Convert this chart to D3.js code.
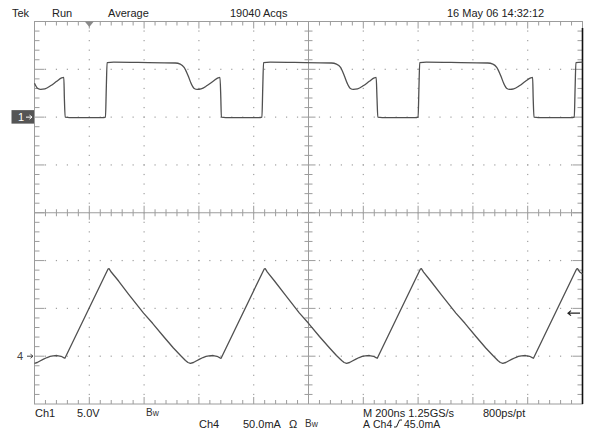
<!DOCTYPE html>
<html lang="en">
<head>
  <meta charset="UTF-8">
  <title>Tek scope capture</title>
  <style>
    * {box-sizing: border-box;}
    html, body {
      margin: 0;
      padding: 0;
      background: #fff;
    }
    text {font-family: "Liberation Sans", Arial, sans-serif; fill: #222;}
  </style>
</head>
<body>
  <svg id="scope"></svg>

  <script src="https://d3js.org/d3.v7.min.js"></script>
  <script>
    // Ch1 gate voltage: [time ns, volts], 5 V/div
    const ch1 = [
      [0, 3.55], [12, 3.0], [23, 2.9], [38, 2.95], [60, 3.3], [81, 3.75], [99, 4.1], [107, 4.15],
      [109, 2.0], [112, 0], [128, -0.05], [248, -0.05],
      [259, 0], [262, 3.0], [265, 5.7], [289, 5.75], [378, 5.72], [514, 5.66],
      [532, 5.55], [546, 5.2], [561, 4.3], [572, 3.5], [583, 3.0], [594, 2.9], [608, 2.95],
      [630, 3.3], [652, 3.75], [670, 4.1], [677, 4.15],
      [680, 2.0], [682, 0], [698, -0.05], [818, -0.05],
      [830, 0], [833, 3.0], [836, 5.7], [860, 5.75], [949, 5.72], [1084, 5.66],
      [1102, 5.55], [1117, 5.2], [1131, 4.3], [1142, 3.5], [1153, 3.0], [1164, 2.9], [1179, 2.95],
      [1201, 3.3], [1222, 3.75], [1240, 4.1], [1247, 4.15],
      [1250, 2.0], [1253, 0], [1269, -0.05], [1389, -0.05],
      [1400, 0], [1403, 3.0], [1406, 5.7], [1430, 5.75], [1519, 5.72], [1654, 5.66],
      [1673, 5.55], [1687, 5.2], [1702, 4.3], [1713, 3.5], [1724, 3.0], [1735, 2.9], [1749, 2.95],
      [1771, 3.3], [1792, 3.75], [1811, 4.1], [1818, 4.15],
      [1820, 2.0], [1823, 0], [1839, -0.05], [1959, -0.05],
      [1970, 0], [1973, 3.0], [1976, 5.7], [2000, 5.75]
    ]

    // Ch4 inductor current: [time ns, mA], 50 mA/div
    const ch4 = [
      [0, -7.4], [10, -6.6], [20, -5.0], [33, -3.0], [46, -1.4], [57, -0.3], [68, 0.4], [82, 0.7], [97, -0.1], [108, -1.7], [111, -2.2],
      [268, 91.0], [272, 91.5], [280, 88.0], [307, 78.6], [343, 65.0], [398, 45.1], [431, 34.4], [471, 20.6], [507, 8.6],
      [533, 0.7], [551, -4.5], [560, -6.6], [569, -7.4],
      [580, -6.6], [590, -5.0], [603, -3.0], [615, -1.4], [626, -0.3], [637, 0.4], [652, 0.7], [666, -0.1], [677, -1.7], [681, -2.2],
      [838, 91.0], [842, 91.5], [850, 88.0], [876, 78.6], [913, 65.0], [967, 45.1], [1000, 34.4], [1040, 20.6], [1077, 8.6],
      [1102, 0.7], [1121, -4.5], [1130, -6.6], [1139, -7.4],
      [1150, -6.6], [1160, -5.0], [1173, -3.0], [1185, -1.4], [1196, -0.3], [1207, 0.4], [1222, 0.7], [1237, -0.1], [1248, -1.7], [1251, -2.2],
      [1408, 91.0], [1412, 91.5], [1420, 88.0], [1446, 78.6], [1483, 65.0], [1538, 45.1], [1571, 34.4], [1611, 20.6], [1647, 8.6],
      [1673, 0.7], [1691, -4.5], [1700, -6.6], [1709, -7.4],
      [1720, -6.6], [1730, -5.0], [1743, -3.0], [1756, -1.4], [1766, -0.3], [1777, 0.4], [1792, 0.7], [1807, -0.1], [1818, -1.7], [1821, -2.2],
      [1978, 91.0], [1982, 91.5], [1990, 88.0], [2000, 86.0]
    ]

    const headerLabels = ['Tek', 'Run', 'Average', '19040 Acqs', '16 May 06 14:32:12']
    const footerRow1 = ['Ch1', '5.0V', 'M 200ns 1.25GS/s', '800ps/pt']
    const footerRow2 = ['Ch4', '50.0mA', 'Ω']
    const triggerRow = ['A', 'Ch4', '45.0mA']

    const voltsPerDiv = 5
    const mAPerDiv = 50
    const ch1Offset = 2    // divisions
    const ch4Offset = -3
    const triggerTime = 200
    const triggerLevel = 45

    const W = 589, H = 431
    const svg = d3.select('#scope').attr('width', W).attr('height', H)

    const xDiv = d3.scaleLinear([0, 10], [34.5, 582.5])
    const yDiv = d3.scaleLinear([-4, 4], [404, 21.5])
    const x = d3.scaleLinear([0, 2000], xDiv.range())
    const y1 = v => yDiv(v / voltsPerDiv + ch1Offset)
    const y4 = a => yDiv(a / mAPerDiv + ch4Offset)

    const grid = svg.append('g').attr('stroke', '#9c9c9c').attr('stroke-width', 1)
    const [L, R] = xDiv.range()
    const [B, T] = yDiv.range()
    const cx = xDiv(5), cy = yDiv(0)

    grid.append('rect').attr('x', L).attr('y', T).attr('width', R - L).attr('height', B - T).attr('fill', 'none')

    // edge + centre ticks along x
    d3.range(1, 50).forEach(k => {
      const px = xDiv(k / 5)
      const major = k % 5 === 0
      grid.append('line').attr('x1', px).attr('x2', px).attr('y1', T).attr('y2', T + (major ? 7 : 4))
      grid.append('line').attr('x1', px).attr('x2', px).attr('y1', B).attr('y2', B - (major ? 7 : 4))
      const c = major ? 7 : 3.5
      grid.append('line').attr('x1', px).attr('x2', px).attr('y1', cy - c).attr('y2', cy + c)
    })
    d3.range(1, 40).forEach(k => {
      const py = yDiv(k / 5 - 4)
      const major = k % 5 === 0
      grid.append('line').attr('y1', py).attr('y2', py).attr('x1', L).attr('x2', L + (major ? 10 : 5))
      grid.append('line').attr('y1', py).attr('y2', py).attr('x1', R).attr('x2', R - (major ? 10 : 5))
      const c = major ? 7 : 4
      grid.append('line').attr('y1', py).attr('y2', py).attr('x1', cx - c).attr('x2', cx + c)
    })
    grid.append('line').attr('x1', L).attr('x2', R).attr('y1', cy).attr('y2', cy)
    grid.append('line').attr('x1', cx).attr('x2', cx).attr('y1', T).attr('y2', B)

    // dotted graticule
    const dots = svg.append('g').attr('fill', '#a0a0a0')
    d3.range(1, 10).filter(k => k !== 5).forEach(k => {
      d3.range(1, 40).forEach(j => {
        dots.append('rect').attr('x', xDiv(k) - 0.6).attr('y', yDiv(j / 5 - 4) - 0.6).attr('width', 1.2).attr('height', 1.2)
      })
    })
    d3.range(1, 8).filter(k => k !== 4).forEach(k => {
      d3.range(1, 50).forEach(j => {
        dots.append('rect').attr('x', xDiv(j / 5) - 0.6).attr('y', yDiv(k - 4) - 0.6).attr('width', 1.2).attr('height', 1.2)
      })
    })

    // dark right border
    svg.append('line').attr('x1', R).attr('x2', R).attr('y1', 28).attr('y2', B)
      .attr('stroke', '#111').attr('stroke-width', 1.6)

    // traces
    const line1 = d3.line().x(d => x(d[0])).y(d => y1(d[1])).curve(d3.curveMonotoneX)
    const line4 = d3.line().x(d => x(d[0])).y(d => y4(d[1]))
    svg.append('path').datum(ch1).attr('d', line1)
      .attr('fill', 'none').attr('stroke', '#505050').attr('stroke-width', 1.3)
    svg.append('path').datum(ch4).attr('d', line4)
      .attr('fill', 'none').attr('stroke', '#505050').attr('stroke-width', 1.3).attr('stroke-linejoin', 'round')

    // trigger position marker
    const tx = x(triggerTime)
    svg.append('path').attr('d', `M${tx - 4.5},${T} L${tx + 4.5},${T} L${tx},${T + 5.5} Z`).attr('fill', '#8a8a8a')

    // ch1 ground marker
    const g1 = y1(0)
    svg.append('rect').attr('x', 11.5).attr('y', g1 - 7).attr('width', 22.5).attr('height', 13.5).attr('fill', '#555')
    svg.append('text').attr('x', 18).attr('y', g1 + 4).style('fill', '#fff').style('font-size', '11px').text('1')
    svg.append('path').attr('d', `M26,${g1} H32 M29.5,${g1 - 2} L32,${g1} L29.5,${g1 + 2}`)
      .attr('stroke', '#fff').attr('fill', 'none').attr('stroke-width', 1)

    // ch4 ground marker
    const g4 = y4(0)
    svg.append('text').attr('x', 17).attr('y', g4 + 4).style('font-size', '11px').style('fill', '#444').text('4')
    svg.append('path').attr('d', `M27,${g4} H33 M30.5,${g4 - 2} L33,${g4} L30.5,${g4 + 2}`)
      .attr('stroke', '#444').attr('fill', 'none').attr('stroke-width', 1)

    // trigger level marker
    const tl = y4(triggerLevel)
    svg.append('path').attr('d', `M568,${tl} H580 M571,${tl - 2.5} L568,${tl} L571,${tl + 2.5}`)
      .attr('stroke', '#222').attr('fill', 'none').attr('stroke-width', 1.2)

    // header text
    const headerX = [12, 52, 108, 230, 447]
    svg.selectAll('text.hdr').data(headerLabels).enter().append('text')
      .attr('class', 'hdr').attr('x', (d, i) => headerX[i]).attr('y', 17)
      .style('font-size', '11px').text(d => d)

    // footer text
    const row1X = [35, 77, 363, 483]
    svg.selectAll('text.f1').data(footerRow1).enter().append('text')
      .attr('class', 'f1').attr('x', (d, i) => row1X[i]).attr('y', 417)
      .style('font-size', '11px').text(d => d)
    const row2X = [199, 243, 289]
    svg.selectAll('text.f2').data(footerRow2).enter().append('text')
      .attr('class', 'f2').attr('x', (d, i) => row2X[i]).attr('y', 427.5)
      .style('font-size', '11px').text(d => d)
    const trigX = [363, 373, 404]
    svg.selectAll('text.f3').data(triggerRow).enter().append('text')
      .attr('class', 'f3').attr('x', (d, i) => trigX[i]).attr('y', 427.5)
      .style('font-size', '10.5px').text(d => d)

    // bandwidth-limit marks
    ;[[146, 416], [305, 427]].forEach(([bx, by]) => {
      const t = svg.append('text').attr('x', bx).attr('y', by).style('font-size', '10px').style('fill', '#333')
      t.append('tspan').text('B')
      t.append('tspan').style('font-size', '8.5px').text('w')
    })

    // rising-edge slope symbol
    svg.append('path').attr('d', 'M394,427 H396.5 L399.5,420 H402')
      .attr('stroke', '#222').attr('fill', 'none').attr('stroke-width', 1)
  </script>
</body>
</html>
